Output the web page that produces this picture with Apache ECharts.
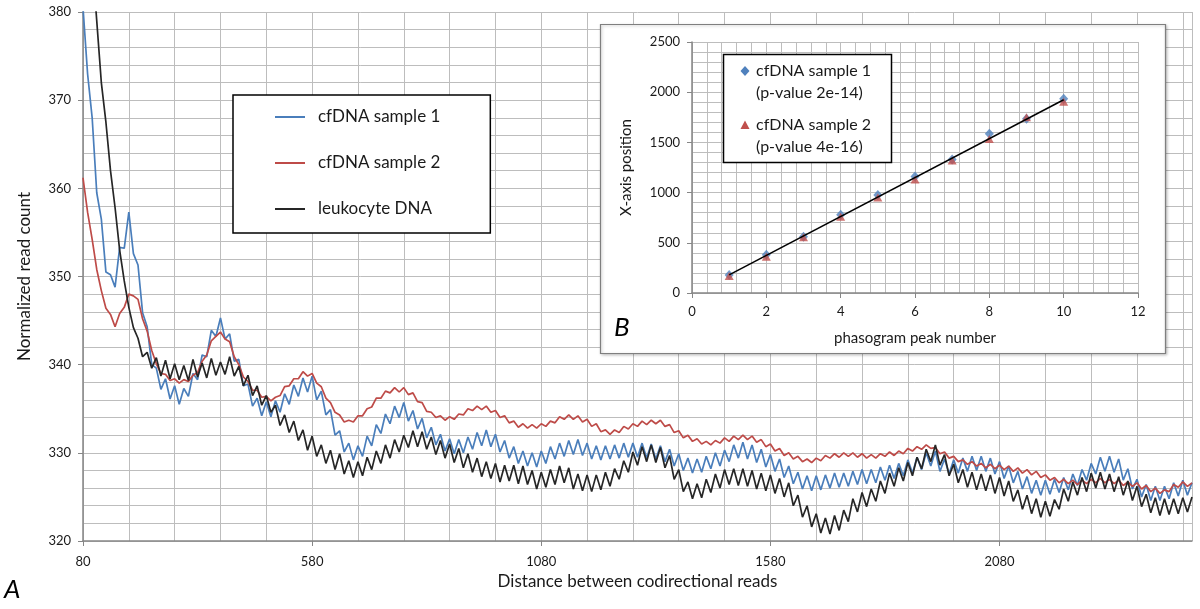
<!DOCTYPE html>
<html>
<head>
<meta charset="utf-8">
<script src="https://cdn.jsdelivr.net/npm/echarts@6/dist/echarts.min.js"></script>
<style>
html,body{margin:0;padding:0;background:#fff;}
#main{width:1200px;height:609px;}
</style>
</head>
<body>
<div id="main"></div>
<script>
// ---- Main chart (A) data ----
const distances = [
80,90,100,110,120,130,140,150,160,170,180,190,200,210,220,230,240,250,260,270,
280,290,300,310,320,330,340,350,360,370,380,390,400,410,420,430,440,450,460,470,
480,490,500,510,520,530,540,550,560,570,580,590,600,610,620,630,640,650,660,670,
680,690,700,710,720,730,740,750,760,770,780,790,800,810,820,830,840,850,860,870,
880,890,900,910,920,930,940,950,960,970,980,990,1000,1010,1020,1030,1040,1050,1060,1070,
1080,1090,1100,1110,1120,1130,1140,1150,1160,1170,1180,1190,1200,1210,1220,1230,1240,1250,1260,1270,
1280,1290,1300,1310,1320,1330,1340,1350,1360,1370,1380,1390,1400,1410,1420,1430,1440,1450,1460,1470,
1480,1490,1500,1510,1520,1530,1540,1550,1560,1570,1580,1590,1600,1610,1620,1630,1640,1650,1660,1670,
1680,1690,1700,1710,1720,1730,1740,1750,1760,1770,1780,1790,1800,1810,1820,1830,1840,1850,1860,1870,
1880,1890,1900,1910,1920,1930,1940,1950,1960,1970,1980,1990,2000,2010,2020,2030,2040,2050,2060,2070,
2080,2090,2100,2110,2120,2130,2140,2150,2160,2170,2180,2190,2200,2210,2220,2230,2240,2250,2260,2270,
2280,2290,2300,2310,2320,2330,2340,2350,2360,2370,2380,2390,2400,2410,2420,2430,2440,2450,2460,2470,
2480,2490,2500
];
const cfdna1 = [
380.5,373.0,368.0,359.5,356.5,350.5,350.2,348.8,353.3,353.2,357.3,352.6,351.3,345.9,344.3,340.0,339.6,337.2,338.4,336.1,
337.6,335.5,337.3,336.4,339.0,338.3,341.1,340.9,343.9,343.2,345.3,342.9,343.5,340.4,340.6,337.6,337.8,335.3,336.2,334.2,
335.8,334.1,335.9,334.6,336.7,335.5,337.7,336.4,338.5,336.9,338.7,336.0,337.0,334.3,334.9,332.0,332.5,330.1,331.1,329.2,
330.8,329.6,331.9,330.8,333.2,332.2,334.4,333.3,335.3,334.0,335.7,333.6,334.8,332.7,333.9,331.7,332.9,330.9,332.1,330.2,
331.6,329.9,331.5,330.0,331.8,330.4,332.3,330.8,332.6,330.7,332.1,330.1,331.4,329.4,330.7,328.8,330.2,328.5,330.0,328.4,
330.2,328.8,330.7,329.3,331.1,329.6,331.4,329.8,331.5,329.7,331.1,329.3,330.8,329.2,330.8,329.3,330.9,329.4,331.1,329.5,
331.1,329.5,331.1,329.4,331.0,329.3,330.8,329.0,330.4,328.5,329.9,328.0,329.4,327.7,329.3,327.8,329.6,328.2,330.0,328.5,
330.3,329.0,330.9,329.4,331.2,329.3,330.9,328.9,330.4,328.4,329.8,327.9,329.3,327.2,328.5,326.5,327.8,325.9,327.4,325.7,
327.4,325.8,327.5,326.0,327.7,326.1,327.7,326.2,327.9,326.4,328.1,326.5,328.1,326.6,328.4,326.9,328.6,327.1,328.8,327.4,
329.2,327.7,329.5,328.1,330.0,328.5,330.2,327.9,329.3,327.6,329.2,327.7,329.4,327.9,329.6,328.0,329.6,327.9,329.4,327.6,
329.0,327.1,328.5,326.6,327.9,325.9,327.3,325.4,326.9,325.2,326.9,325.3,327.0,325.5,327.2,325.8,327.6,326.3,328.1,326.9,
328.8,327.6,329.5,327.9,329.6,327.8,329.3,326.9,328.2,325.9,327.0,325.0,326.4,324.6,326.2,324.6,326.2,324.8,326.6,325.1,
326.9,325.2,326.6
];
const cfdna2 = [
361.2,357.3,354.2,350.8,348.4,346.4,345.7,344.3,345.8,346.5,348.0,347.8,347.4,345.2,343.8,341.6,340.1,339.0,338.9,338.2,
338.4,337.9,338.3,338.1,338.8,339.1,340.4,341.1,342.7,343.2,343.7,342.9,342.6,340.9,340.0,338.6,338.1,337.1,337.1,336.3,
336.4,335.9,336.3,336.5,337.5,337.6,338.4,338.4,339.2,338.7,339.0,337.9,337.5,336.2,335.7,334.6,334.3,333.5,333.7,333.5,
334.2,334.2,335.0,335.2,336.2,336.2,337.0,336.8,337.4,336.9,337.4,336.6,336.8,335.8,335.7,334.7,334.6,334.0,334.2,333.7,
334.1,333.8,334.4,334.3,335.0,334.8,335.3,334.9,335.3,334.6,334.8,334.0,334.2,333.4,333.6,332.9,333.3,332.8,333.2,332.8,
333.3,333.0,333.6,333.4,334.1,333.8,334.3,333.8,334.2,333.5,333.8,333.0,333.3,332.4,332.6,332.1,332.6,332.3,333.0,332.7,
333.3,333.0,333.6,333.2,333.7,333.3,333.7,333.0,333.2,332.3,332.5,331.7,332.0,331.3,331.6,331.0,331.3,330.9,331.4,331.1,
331.7,331.3,331.9,331.5,332.0,331.5,331.9,331.2,331.5,330.7,331.0,330.2,330.5,329.7,330.0,329.3,329.6,329.0,329.3,328.9,
329.4,329.1,329.7,329.4,329.9,329.5,330.0,329.6,330.0,329.5,329.9,329.4,329.8,329.4,329.9,329.6,330.1,329.7,330.2,329.9,
330.5,330.2,330.7,330.4,330.9,330.5,330.6,329.9,330.1,329.4,329.6,329.0,329.2,328.7,329.0,328.5,328.8,328.3,328.7,328.2,
328.6,328.1,328.5,327.9,328.3,327.7,328.1,327.5,327.9,327.2,327.5,326.9,327.2,326.6,327.0,326.5,326.9,326.4,326.9,326.5,
327.0,326.6,327.1,326.6,327.0,326.5,326.9,326.3,326.7,326.2,326.6,325.9,326.3,325.6,326.0,325.4,325.8,325.6,326.4,326.1,
326.7,326.2,326.6
];
const leukocyte = [
401,393,386,379,372,367.5,362,357.8,353,349.5,346.5,344.2,343.0,340.9,341.4,339.6,340.8,338.7,340.5,338.4,
340.1,338.3,339.9,338.2,340.6,338.6,340.2,338.5,340.7,338.8,340.3,338.9,340.9,338.7,339.8,337.6,338.8,336.5,337.6,335.4,
336.5,334.6,335.4,333.1,334.3,332.3,333.6,331.4,332.6,330.3,331.9,329.6,330.9,328.8,330.3,328.1,329.9,327.6,329.1,327.2,
329.0,327.4,329.5,328.1,330.2,328.8,330.9,329.4,331.5,330.1,332.0,330.6,332.5,330.7,332.4,330.4,331.8,329.8,331.4,329.4,
331.0,328.9,330.5,328.3,329.9,327.8,329.4,327.3,329.0,327.1,328.8,326.7,328.6,326.8,328.6,326.5,328.5,326.4,328.0,325.9,
327.8,326.1,328.1,326.4,328.5,326.6,328.3,325.9,327.6,325.7,327.5,325.6,327.5,325.8,327.8,326.2,328.2,327.0,329.1,327.8,
330.1,328.6,330.7,329.0,330.9,328.9,330.6,328.3,329.7,327.0,328.1,325.6,326.7,324.8,326.5,324.9,327.0,325.5,327.6,326.0,
328.1,326.4,328.2,326.3,328.2,326.2,328.0,325.9,327.7,325.7,327.5,325.4,327.1,325.0,326.6,324.0,325.2,322.7,324.0,321.6,
323.1,320.9,322.6,320.8,322.9,321.2,323.5,322.2,324.8,323.3,325.5,323.9,325.9,324.5,326.8,325.4,327.7,326.2,328.3,326.8,
328.9,327.4,329.5,328.2,330.4,329.0,330.9,328.6,329.8,327.4,328.7,326.6,328.1,326.1,327.8,325.8,327.6,325.7,327.5,325.4,
327.2,325.1,326.8,324.5,325.8,323.6,325.2,323.1,324.8,322.7,324.5,322.8,324.7,323.6,325.9,324.5,326.7,325.2,327.2,325.6,
327.7,326.0,327.8,325.9,327.6,325.6,327.3,325.2,326.8,324.6,326.2,323.9,325.3,323.2,324.9,322.9,324.8,323.0,324.8,323.1,
324.9,323.3,325.0
];
const mainSeriesNames = ['cfDNA sample 1', 'cfDNA sample 2', 'leukocyte DNA'];

// ---- Inset chart (B) data ----
const peakNumbers = [1, 2, 3, 4, 5, 6, 7, 8, 9, 10];
const sample1Position = [180, 380, 560, 780, 975, 1160, 1330, 1585, 1735, 1935];
const sample2Position = [170, 360, 555, 760, 950, 1130, 1320, 1535, 1750, 1905];
const trendPeak = [1, 10];
const trendPosition = [180, 1925];
const insetLegendLines = [
  ['cfDNA sample 1', '(p-value 2e-14)'],
  ['cfDNA sample 2', '(p-value 4e-16)']
];

const FONT = 'Lato, "Open Sans", sans-serif';
const gridColor = '#bdbdbd';
const axisColor = '#868686';
const textColor = '#1a1a1a';
const plain = v => String(v);

function pairs(xs, ys) { return xs.map((x, i) => [x, ys[i]]); }

const chart = echarts.init(document.getElementById('main'), null, { renderer: 'canvas' });

const option = {
  animation: false,
  backgroundColor: '#fff',
  textStyle: { fontFamily: FONT },
  grid: [
    { left: 83, top: 12, right: 8, bottom: 68, show: false },
    { left: 692, top: 42, width: 446, height: 251, show: false }
  ],
  xAxis: [
    {
      gridIndex: 0, type: 'value', min: 80, max: 2500, interval: 500,
      axisLine: { lineStyle: { color: axisColor, width: 1.5 } },
      axisTick: { show: true, length: 5, lineStyle: { color: axisColor } },
      axisLabel: { color: textColor, fontSize: 13, margin: 14, showMaxLabel: false, fontFamily: FONT, formatter: plain },
      splitLine: { show: true, lineStyle: { color: gridColor, width: 1 } },
      minorTick: { show: false, splitNumber: 5 },
      minorSplitLine: { show: true, lineStyle: { color: gridColor, width: 1 } },
      name: 'Distance between codirectional reads', nameLocation: 'middle', nameGap: 32,
      nameTextStyle: { fontSize: 17, color: textColor, fontFamily: FONT }
    },
    {
      gridIndex: 1, type: 'value', min: 0, max: 12, interval: 2, z: 4,
      axisLine: { lineStyle: { color: axisColor, width: 1.5 } },
      axisTick: { show: true, length: 5, lineStyle: { color: axisColor } },
      axisLabel: { color: textColor, fontSize: 13, margin: 12, fontFamily: FONT, formatter: plain },
      splitLine: { show: true, lineStyle: { color: gridColor, width: 1 } },
      minorTick: { show: false, splitNumber: 5 },
      minorSplitLine: { show: true, lineStyle: { color: gridColor, width: 1 } },
      name: 'phasogram peak number', nameLocation: 'middle', nameGap: 38,
      nameTextStyle: { fontSize: 15, color: textColor, fontFamily: FONT }
    }
  ],
  yAxis: [
    {
      gridIndex: 0, type: 'value', min: 320, max: 380, interval: 10,
      axisLine: { show: true, lineStyle: { color: axisColor, width: 1.5 } },
      axisTick: { show: true, length: 5, lineStyle: { color: axisColor } },
      axisLabel: { color: textColor, fontSize: 13, margin: 12, fontFamily: FONT, formatter: plain },
      splitLine: { show: true, lineStyle: { color: gridColor, width: 1 } },
      minorTick: { show: false, splitNumber: 5 },
      minorSplitLine: { show: true, lineStyle: { color: gridColor, width: 1 } },
      name: 'Normalized read count', nameLocation: 'middle', nameGap: 50, nameRotate: 90,
      nameTextStyle: { fontSize: 17, color: textColor, fontFamily: FONT }
    },
    {
      gridIndex: 1, type: 'value', min: 0, max: 2500, interval: 500, z: 4,
      axisLine: { show: true, lineStyle: { color: axisColor, width: 1.5 } },
      axisTick: { show: true, length: 5, lineStyle: { color: axisColor } },
      axisLabel: { color: textColor, fontSize: 13, margin: 12, fontFamily: FONT, formatter: plain },
      splitLine: { show: true, lineStyle: { color: gridColor, width: 1 } },
      minorTick: { show: false, splitNumber: 5 },
      minorSplitLine: { show: true, lineStyle: { color: gridColor, width: 1 } },
      name: 'X-axis position', nameLocation: 'middle', nameGap: 58, nameRotate: 90,
      nameTextStyle: { fontSize: 15, color: textColor, fontFamily: FONT }
    }
  ],
  legend: [{
    data: mainSeriesNames,
    left: 233, top: 95, orient: 'vertical',
    backgroundColor: '#fff', borderColor: '#000', borderWidth: 1.5,
    padding: [12, 50, 14, 42], itemGap: 26, itemWidth: 30, itemHeight: 2, icon: 'rect',
    textStyle: { fontSize: 17, color: textColor, padding: [0, 0, 0, 8], fontFamily: FONT, lineHeight: 20 },
    z: 10
  }],
  graphic: [
    { type: 'rect', z: 3, silent: true,
      shape: { x: 600.5, y: 24.5, width: 565, height: 329 },
      style: { fill: '#fff', stroke: '#7f7f7f', lineWidth: 1.2,
               shadowBlur: 3, shadowColor: 'rgba(0,0,0,0.25)', shadowOffsetX: 1, shadowOffsetY: 1 } },
    { type: 'rect', z: 20, silent: true,
      shape: { x: 723.5, y: 54.5, width: 168, height: 108 },
      style: { fill: '#fff', stroke: '#000', lineWidth: 1.5 } },
    { type: 'polygon', z: 21, silent: true,
      shape: { points: [[745, 66], [749.5, 71], [745, 76], [740.5, 71]] },
      style: { fill: '#4f81bd' } },
    { type: 'polygon', z: 21, silent: true,
      shape: { points: [[745, 120.5], [749.5, 129], [740.5, 129]] },
      style: { fill: '#c0504d' } },
    { type: 'text', z: 21, silent: true, x: 756, y: 71,
      style: { text: insetLegendLines[0][0], font: '16px ' + FONT, fill: textColor, textVerticalAlign: 'middle', verticalAlign: 'middle' } },
    { type: 'text', z: 21, silent: true, x: 756, y: 93,
      style: { text: insetLegendLines[0][1], font: '16px ' + FONT, fill: textColor, textVerticalAlign: 'middle', verticalAlign: 'middle' } },
    { type: 'text', z: 21, silent: true, x: 756, y: 125,
      style: { text: insetLegendLines[1][0], font: '16px ' + FONT, fill: textColor, textVerticalAlign: 'middle', verticalAlign: 'middle' } },
    { type: 'text', z: 21, silent: true, x: 756, y: 147,
      style: { text: insetLegendLines[1][1], font: '16px ' + FONT, fill: textColor, textVerticalAlign: 'middle', verticalAlign: 'middle' } },
    { type: 'text', z: 21, silent: true, x: 4, y: 590,
      style: { text: 'A', font: 'italic 26px ' + FONT, fill: '#000', textVerticalAlign: 'middle', verticalAlign: 'middle' } },
    { type: 'text', z: 21, silent: true, x: 614, y: 328,
      style: { text: 'B', font: 'italic 26px ' + FONT, fill: '#000', textVerticalAlign: 'middle', verticalAlign: 'middle' } }
  ],
  series: [
    { name: mainSeriesNames[0], type: 'line', xAxisIndex: 0, yAxisIndex: 0,
      data: pairs(distances, cfdna1), symbol: 'none', clip: true,
      lineStyle: { color: '#4a7ebb', width: 1.7 }, itemStyle: { color: '#4a7ebb' } },
    { name: mainSeriesNames[1], type: 'line', xAxisIndex: 0, yAxisIndex: 0,
      data: pairs(distances, cfdna2), symbol: 'none', clip: true,
      lineStyle: { color: '#be4b48', width: 1.7 }, itemStyle: { color: '#be4b48' } },
    { name: mainSeriesNames[2], type: 'line', xAxisIndex: 0, yAxisIndex: 0,
      data: pairs(distances, leukocyte), symbol: 'none', clip: true,
      lineStyle: { color: '#262626', width: 1.7 }, itemStyle: { color: '#262626' } },
    { name: 'inset sample 1', type: 'scatter', xAxisIndex: 1, yAxisIndex: 1, z: 5,
      data: pairs(peakNumbers, sample1Position), symbol: 'diamond', symbolSize: [9, 10],
      itemStyle: { color: '#4f81bd' } },
    { name: 'inset sample 2', type: 'scatter', xAxisIndex: 1, yAxisIndex: 1, z: 5,
      data: pairs(peakNumbers, sample2Position), symbol: 'triangle', symbolSize: [9, 8],
      itemStyle: { color: '#c0504d' } },
    { name: 'inset trend', type: 'line', xAxisIndex: 1, yAxisIndex: 1, z: 6,
      data: pairs(trendPeak, trendPosition), symbol: 'none',
      lineStyle: { color: '#000', width: 1.5 } }
  ]
};
chart.setOption(option);
</script>
</body>
</html>
